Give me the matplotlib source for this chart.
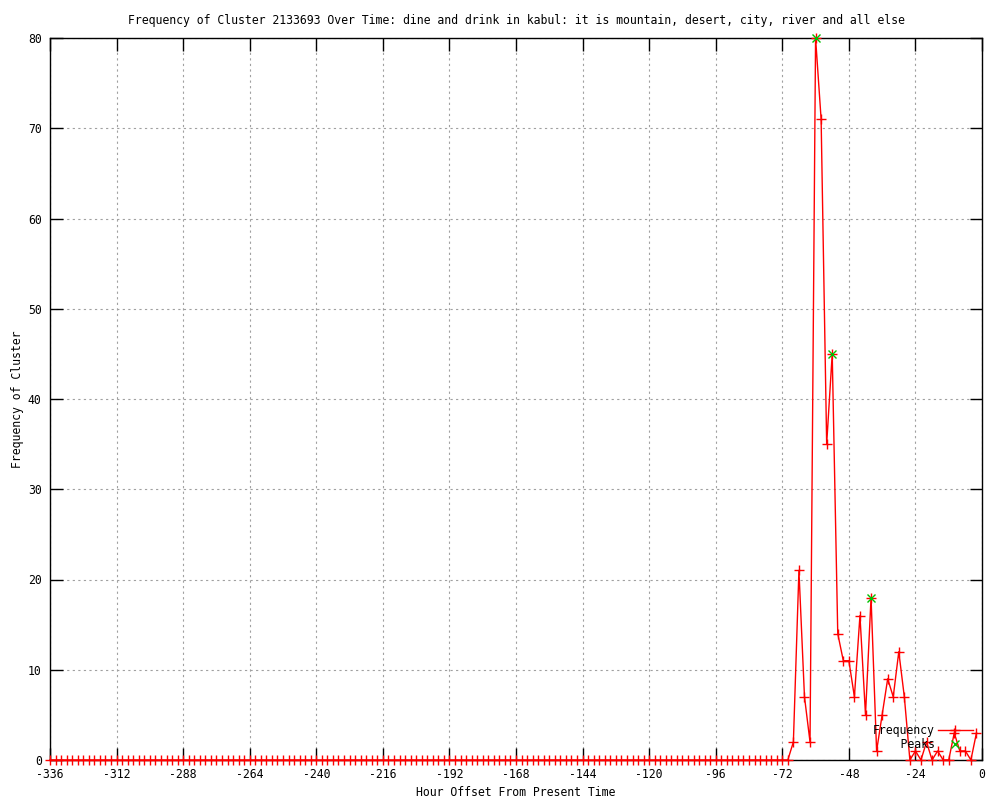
import numpy as np
import matplotlib
matplotlib.use("Agg")
import matplotlib.pyplot as plt

plt.rcParams['font.family'] = ['DejaVu Sans Mono']
plt.rcParams['font.size'] = 8.3
plt.rcParams['axes.unicode_minus'] = False

TITLE = "Frequency of Cluster 2133693 Over Time: dine and drink in kabul: it is mountain, desert, city, river and all else"

# hours every 2h from -336 to -2
freq_hours = list(range(-336, 0, 2))
freq_values = [0] * 134 + [
    2, 21, 7, 2, 80, 71, 35, 45, 14, 11,
    11, 7, 16, 5, 18, 1, 5, 9, 7, 12,
    7, 0, 1, 0, 2, 0, 1, 0, 0, 3,
    1, 1, 0, 3,
]

peak_hours = [-60, -54, -40]
peak_values = [80, 45, 18]

x_ticks = list(range(-336, 1, 24))
y_ticks = list(range(0, 81, 10))

fig = plt.figure(figsize=(10, 8), dpi=100)
ax = fig.add_axes([0.05, 0.05, 0.932, 0.9025])

ax.plot(freq_hours, freq_values, color='#ff0000', lw=1, marker='+',
        markersize=7, markeredgewidth=1, label='Frequency', clip_on=False,
        zorder=3)
ax.plot(peak_hours, peak_values, linestyle='none', color='#00c000',
        marker='x', markersize=6, markeredgewidth=1, label='    Peaks',
        clip_on=False, zorder=4)

ax.set_xlim(-336, 0)
ax.set_ylim(0, 80)
ax.set_xticks(x_ticks)
ax.set_yticks(y_ticks)
ax.tick_params(direction='in', length=9, width=1, top=True, right=True,
               labelsize=8.3, pad=6)
ax.grid(True, color='#a0a0a0', linestyle=(0, (2, 3)), lw=0.8)
for s in ax.spines.values():
    s.set_linewidth(1)

ax.set_title(TITLE, fontsize=8.3, pad=10)
ax.set_xlabel("Hour Offset From Present Time", labelpad=3)
ax.set_ylabel("Frequency of Cluster", labelpad=3)

ax.legend(loc='lower right', markerfirst=False, frameon=False,
          handlelength=3.0, handletextpad=0.3, borderaxespad=0.4,
          labelspacing=0.1, fontsize=8.3)

fig.savefig("out.png", dpi=100)
